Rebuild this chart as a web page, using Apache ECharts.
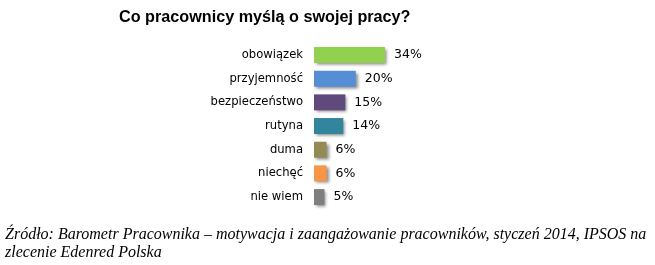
<!DOCTYPE html>
<html><head><meta charset="utf-8">
<script src="https://cdn.jsdelivr.net/npm/echarts@6/dist/echarts.min.js"></script>
<style>html,body{margin:0;padding:0;background:#fff}#c{width:655px;height:265px}</style>
</head><body><div id="c"></div>
<script>
const categories = ['obowiązek','przyjemność','bezpieczeństwo','rutyna','duma','niechęć','nie wiem'];
const values = [34, 20, 15, 14, 6, 6, 5];
const colors = ['#92d050','#558ed5','#604a7b','#31859c','#948a54','#f79646','#7f7f7f'];
const titleText = 'Co pracownicy myślą o swojej pracy?';
const sourceLine1 = 'Źródło: Barometr Pracownika – motywacja i zaangażowanie pracowników, styczeń 2014, IPSOS na';
const sourceLine2 = 'zlecenie Edenred Polska';

const chart = echarts.init(document.getElementById('c'));
chart.setOption({
  animation: false,
  title: {text: titleText, left: 114, top: 5,
    textStyle: {fontFamily: 'Liberation Sans', fontWeight: 'bold', fontSize: 16.2, color: '#000'}},
  graphic: [
    {type: 'text', left: 5, top: 227, style: {text: sourceLine1, fontFamily: 'Liberation Serif', fontStyle: 'italic', fontSize: 16, fill: '#000'}},
    {type: 'text', left: 5, top: 245, style: {text: sourceLine2, fontFamily: 'Liberation Serif', fontStyle: 'italic', fontSize: 16, fill: '#000'}}
  ],
  grid: {left: 314, top: 43.2, width: 83.6, height: 165.7, containLabel: false},
  xAxis: {type: 'value', min: 0, max: 40, show: false},
  yAxis: {type: 'category', data: categories, inverse: true,
    axisLine: {show: false}, axisTick: {show: false},
    axisLabel: {margin: 11, fontFamily: 'DejaVu Sans', fontSize: 11.6, color: '#000'}},
  series: [{
    type: 'bar', barWidth: 16,
    data: values.map((v, i) => ({value: v, itemStyle: {color: colors[i]}})),
    itemStyle: {shadowColor: 'rgba(0,0,0,0.45)', shadowBlur: 3, shadowOffsetX: 2, shadowOffsetY: 2},
    label: {show: true, position: 'right', distance: 9, formatter: '{c}%',
      fontFamily: 'DejaVu Sans', fontSize: 12.5, color: '#000'}
  }]
});
</script></body></html>
